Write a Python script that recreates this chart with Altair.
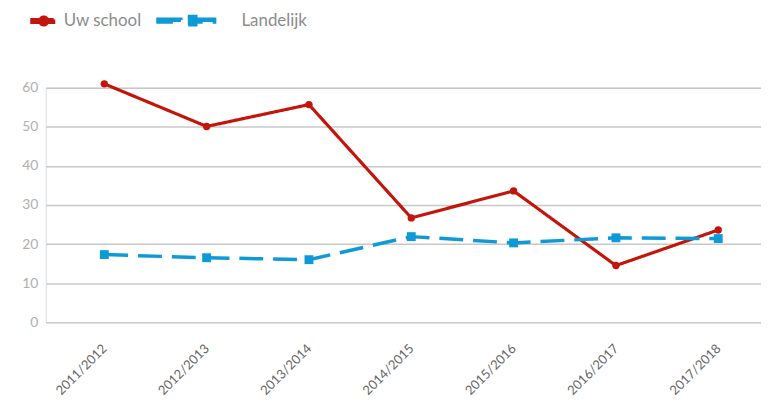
import altair as alt
import pandas as pd

years = ["2011/2012", "2012/2013", "2013/2014", "2014/2015", "2015/2016", "2016/2017", "2017/2018"]
uw_school = [61.0, 50.1, 55.7, 26.7, 33.6, 14.5, 23.6]
landelijk = [17.3, 16.5, 16.0, 21.9, 20.3, 21.6, 21.4]
series = ["Uw school", "Landelijk"]
colors = ["#c4150c", "#0d9ad6"]

rows = []
for y, v in zip(years, uw_school):
    rows.append({"jaar": y, "waarde": v, "reeks": series[0]})
for y, v in zip(years, landelijk):
    rows.append({"jaar": y, "waarde": v, "reeks": series[1]})
df = pd.DataFrame(rows)

FONT = "Lato"

path_uw = ("M-1.2,-0.14L-0.4,-0.14L-0.4,0.14L-1.2,0.14Z"
           "M0.4,-0.14L1.0,-0.14L1.0,0.14L0.4,0.14Z"
           "M-0.4,0A0.4,0.4,0,1,0,0.4,0A0.4,0.4,0,1,0,-0.4,0Z")
path_land = ("M-6.4,-0.15L-4.1,-0.15L-4.1,0.15L-6.4,0.15Z"
             "M-3.4,-0.42L-2.6,-0.42L-2.6,0.42L-3.4,0.42Z"
             "M-2.6,-0.15L-0.7,-0.15L-0.7,0.15L-2.6,0.15Z")

x = alt.X("jaar:N", sort=years, title=None,
          scale=alt.Scale(type="point", padding=0.495, align=0.578),
          axis=alt.Axis(labelAngle=-45, labelAlign="right", labelBaseline="middle",
                        labelFont=FONT, labelFontSize=13, labelColor="#666666",
                        labelPadding=24, ticks=False, domain=False, grid=False))
y = alt.Y("waarde:Q", title=None,
          scale=alt.Scale(domain=[0, 60], nice=False),
          axis=alt.Axis(values=[0, 10, 20, 30, 40, 50, 60], labelFont=FONT, labelFontSize=14,
                        labelColor="#b0b0b0", labelPadding=8, ticks=False, domain=False,
                        grid=True, gridColor="#c8c8c8", gridWidth=1.5))

cscale = alt.Scale(domain=series, range=colors)
legend = alt.Legend(title=None, orient="none", direction="horizontal",
                    legendX=-14, legendY=-80, symbolSize=400, labelOffset=8,
                    columnPadding=9, labelFont=FONT, labelFontSize=17,
                    labelColor="#8c8c8c", padding=0, symbolStrokeWidth=0, symbolOpacity=1)
color = alt.Color("reeks:N", scale=cscale, legend=legend)

legend_layer = alt.Chart(df).mark_point(filled=True, opacity=0).encode(
    x=x, y=y, color=color,
    shape=alt.Shape("reeks:N", scale=alt.Scale(domain=series, range=[path_uw, path_land]), legend=None),
)

lines = alt.Chart(df).mark_line().encode(
    x=x, y=y, color=color,
    strokeDash=alt.StrokeDash("reeks:N", scale=alt.Scale(domain=series, range=[[1, 0], [24, 10]]), legend=None),
    strokeWidth=alt.StrokeWidth("reeks:N", scale=alt.Scale(domain=series, range=[3.2, 3.5]), legend=None),
)
red_points = alt.Chart(df).transform_filter(alt.datum.reeks == series[0]).mark_point(
    filled=True, opacity=1, shape="circle", size=55).encode(x=x, y=y, color=color)
blue_points = alt.Chart(df).transform_filter(alt.datum.reeks == series[1]).mark_point(
    filled=True, opacity=1, shape="square", size=80).encode(x=x, y=y, color=color)

chart = alt.layer(legend_layer, lines, red_points, blue_points).properties(
    width=720, height=236,
    autosize=alt.AutoSizeParams(type="none"),
    padding={"left": 38, "top": 79, "right": 0, "bottom": 74},
).configure_view(stroke=None).configure(background="white")

chart.save("out.html", embed_options={"renderer": "svg", "actions": False})
